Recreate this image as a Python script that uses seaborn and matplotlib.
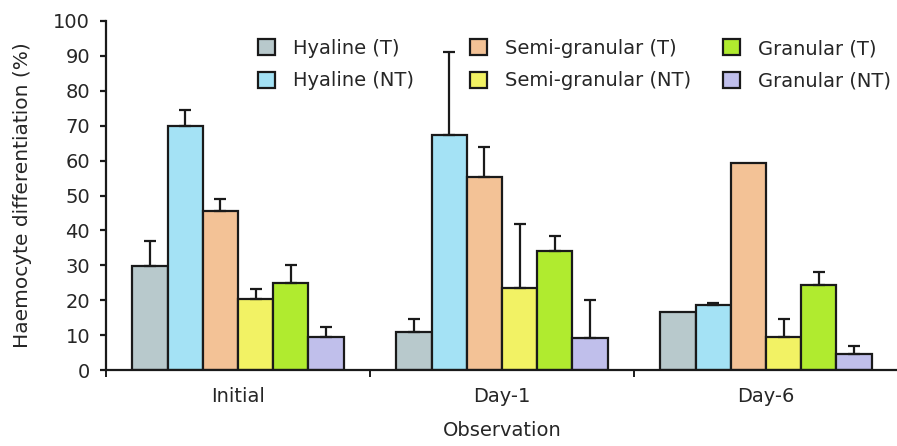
import numpy as np
import pandas as pd
import matplotlib
matplotlib.use("Agg")
import matplotlib.pyplot as plt
import seaborn as sns

# Observation times
observations = ["Initial", "Day-1", "Day-6"]

# Haemocyte types (T = treated, NT = non-treated)
cell_types = ["Hyaline (T)", "Hyaline (NT)", "Semi-granular (T)",
              "Semi-granular (NT)", "Granular (T)", "Granular (NT)"]

# Mean differentiation (%) per type, in order Initial, Day-1, Day-6
hyaline_t = [29.8, 10.8, 16.5]
hyaline_nt = [69.8, 67.4, 18.7]
semi_t = [45.6, 55.2, 59.2]
semi_nt = [20.4, 23.4, 9.5]
granular_t = [25.0, 34.0, 24.3]
granular_nt = [9.5, 9.1, 4.5]

# Upper error (%) per type
hyaline_t_err = [7.2, 3.7, 0.0]
hyaline_nt_err = [4.8, 23.6, 0.5]
semi_t_err = [3.4, 8.7, 0.0]
semi_nt_err = [2.9, 18.3, 5.0]
granular_t_err = [5.2, 4.5, 3.7]
granular_nt_err = [2.8, 11.0, 2.4]

colors = ["#b8c9cc", "#a4e2f5", "#f3c296", "#f2f264", "#b0eb2f", "#c0bfeb"]

means = [hyaline_t, hyaline_nt, semi_t, semi_nt, granular_t, granular_nt]
errs = [hyaline_t_err, hyaline_nt_err, semi_t_err, semi_nt_err,
        granular_t_err, granular_nt_err]

rows = []
for ct, m, e in zip(cell_types, means, errs):
    for obs, v, ev in zip(observations, m, e):
        rows.append({"Observation": obs, "Type": ct, "Value": v, "Err": ev})
df = pd.DataFrame(rows)

sns.set_style("white")
plt.rcParams["font.family"] = ["DejaVu Sans"]
ink = "#1a1a1a"
text_ink = "#262626"

fig = plt.figure(figsize=(8.97, 4.46), dpi=100)
ax = fig.add_axes([106 / 897, 76 / 446, 792 / 897, 349 / 446])

sns.barplot(data=df, x="Observation", y="Value", hue="Type",
            order=observations, hue_order=cell_types, palette=colors,
            errorbar=None, width=0.8, gap=0, saturation=1,
            edgecolor=ink, linewidth=1.6, ax=ax, legend=True)

# Upward error bars, placed on each drawn bar
for container, ct in zip(ax.containers, cell_types):
    sub = df[df["Type"] == ct].set_index("Observation").loc[observations]
    for patch, val, err in zip(container.patches, sub["Value"], sub["Err"]):
        if err <= 0:
            continue
        xc = patch.get_x() + patch.get_width() / 2
        ax.errorbar(xc, val, yerr=[[0], [err]], fmt="none", ecolor=ink,
                    elinewidth=1.6, capsize=4.5, capthick=1.6, zorder=1)

ax.set_ylim(0, 100)
ax.set_xlim(-0.5, 2.5)
ax.set_yticks(np.arange(0, 101, 10))
ax.tick_params(axis="y", labelsize=14, length=4.5, width=1.6, direction="out",
               left=True, colors=ink, labelcolor=text_ink, pad=7)

ax.set_xticks([-0.5, 0.5, 1.5, 2.5])
ax.set_xticklabels([])
ax.set_xticks([0, 1, 2], minor=True)
ax.set_xticklabels(observations, minor=True)
ax.tick_params(axis="x", which="major", length=5, width=1.4, direction="out",
               bottom=True, colors=ink)
ax.tick_params(axis="x", which="minor", length=0, labelsize=14, pad=12,
               labelcolor=text_ink)

for side in ["top", "right"]:
    ax.spines[side].set_visible(False)
for side in ["left", "bottom"]:
    ax.spines[side].set_linewidth(1.6)
    ax.spines[side].set_color(ink)

ax.set_ylabel("Haemocyte differentiation (%)", fontsize=14.5, labelpad=15,
              color=text_ink)
ax.set_xlabel("Observation", fontsize=14, labelpad=11, color=text_ink)

# Legend: three columns of two entries each
handles, labels = ax.get_legend_handles_labels()
ax.get_legend().remove()
col_x = [0.192, 0.4596, 0.779]
for i, x0 in enumerate(col_x):
    leg = ax.legend(handles[2 * i:2 * i + 2], labels[2 * i:2 * i + 2],
                    loc="upper left", bbox_to_anchor=(x0, 0.948),
                    frameon=False, fontsize=14, handlelength=0.88,
                    handleheight=0.88, handletextpad=0.93, labelspacing=0.68,
                    borderpad=0, borderaxespad=0)
    for t in leg.get_texts():
        t.set_color(text_ink)
    if i < len(col_x) - 1:
        ax.add_artist(leg)

fig.savefig("out.png", dpi=100)
